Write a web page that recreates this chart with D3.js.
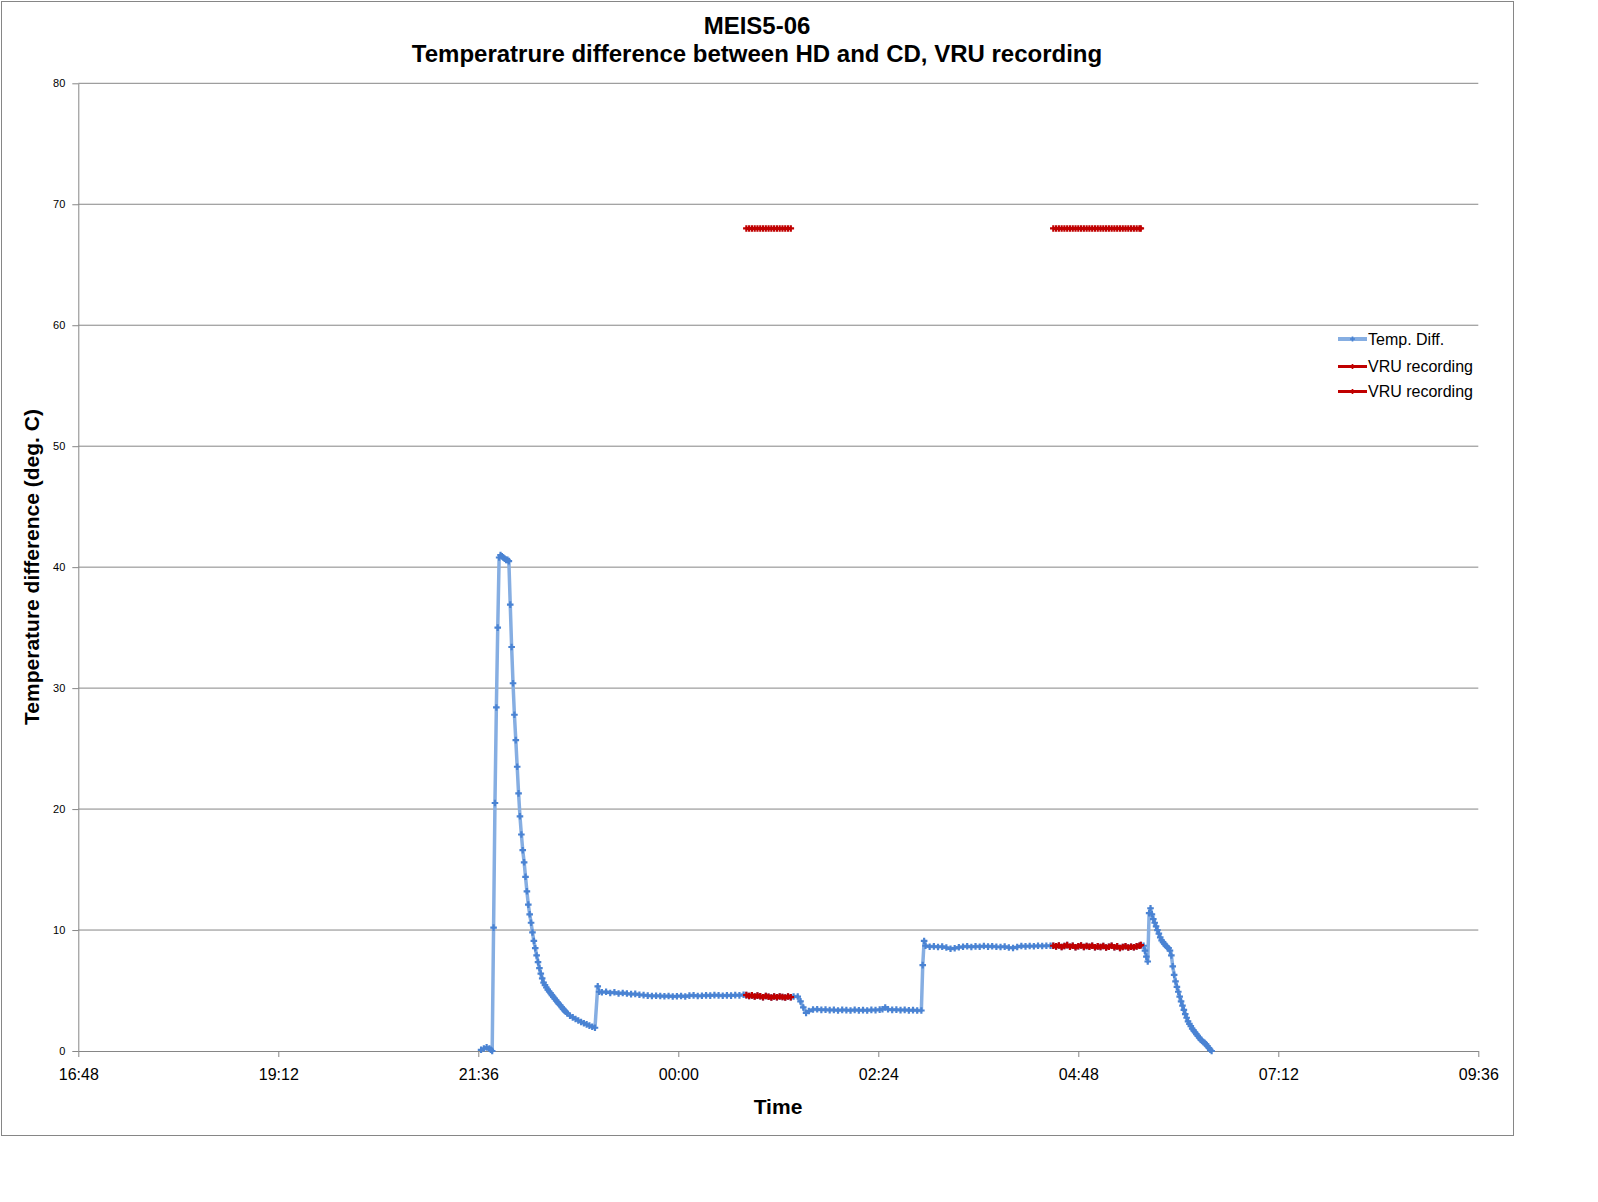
<!DOCTYPE html>
<html lang="en">
<head>
    <meta charset="UTF-8">
    <title>MEIS5-06 Temperature difference</title>
    <script src="https://cdn.jsdelivr.net/npm/d3@7/dist/d3.min.js"></script>
    <style>
        body { margin: 0; background: #fff; }
        text { font-family: "Liberation Sans", Arial, sans-serif; }
    </style>
</head>
<body>
<svg id="main" width="1598" height="1202"></svg>
<script>
// ---- data, times are HH:MM, evening = day 1, morning = day 2 ----
var xTickLabels = ["16:48", "19:12", "21:36", "00:00", "02:24", "04:48", "07:12", "09:36"];
var yTicks = [0, 10, 20, 30, 40, 50, 60, 70, 80];

// temperature difference before first VRU recording
var tempStart = [
    ["21:38", 0.1], ["21:40", 0.2], ["21:42", 0.3], ["21:44", 0.2], ["21:45", 0.1], ["21:46", 0.0],
    ["21:47", 10.2], ["21:48", 20.5], ["21:49", 28.4], ["21:50", 35.0], ["21:51", 40.8], ["21:52", 41.0],
    ["21:53", 40.9], ["21:54", 40.8], ["21:55", 40.7], ["21:56", 40.6], ["21:57", 40.6], ["21:58", 40.5],
    ["21:59", 36.9], ["22:00", 33.4], ["22:01", 30.4], ["22:02", 27.8], ["22:03", 25.7], ["22:04", 23.5],
    ["22:05", 21.3], ["22:06", 19.4], ["22:07", 17.9], ["22:08", 16.6], ["22:09", 15.6], ["22:10", 14.4],
    ["22:11", 13.2], ["22:12", 12.1], ["22:13", 11.3], ["22:14", 10.6], ["22:15", 9.8], ["22:16", 9.1],
    ["22:17", 8.5], ["22:18", 7.9], ["22:19", 7.35], ["22:20", 6.85], ["22:21", 6.4], ["22:22", 6.0],
    ["22:23", 5.65], ["22:24", 5.45], ["22:25", 5.25], ["22:26", 5.08], ["22:27", 4.92], ["22:28", 4.78],
    ["22:29", 4.62], ["22:30", 4.48], ["22:31", 4.33], ["22:32", 4.18], ["22:33", 4.04], ["22:34", 3.9],
    ["22:35", 3.78], ["22:36", 3.62], ["22:37", 3.48], ["22:38", 3.36], ["22:39", 3.24], ["22:40", 3.12],
    ["22:42", 2.92], ["22:44", 2.78], ["22:46", 2.65], ["22:48", 2.52], ["22:50", 2.4], ["22:52", 2.3],
    ["22:54", 2.2], ["22:56", 2.1], ["22:58", 2.01], ["23:00", 1.92],
    ["23:02", 5.35], ["23:03", 4.9], ["23:05", 4.85], ["23:08", 4.9], ["23:11", 4.8], ["23:14", 4.85],
    ["23:17", 4.75], ["23:20", 4.8], ["23:23", 4.75], ["23:26", 4.7], ["23:29", 4.72], ["23:32", 4.65],
    ["23:35", 4.62], ["23:38", 4.58], ["23:41", 4.55], ["23:44", 4.57], ["23:47", 4.55], ["23:50", 4.52],
    ["23:53", 4.55], ["23:56", 4.5], ["23:59", 4.53], ["00:02", 4.55], ["00:05", 4.5], ["00:08", 4.58],
    ["00:11", 4.6], ["00:14", 4.55], ["00:17", 4.57], ["00:20", 4.6], ["00:23", 4.58], ["00:26", 4.62],
    ["00:29", 4.6], ["00:32", 4.57], ["00:35", 4.6], ["00:38", 4.58], ["00:41", 4.62], ["00:44", 4.6],
    ["00:47", 4.65]
];

// temperature difference during first VRU recording
var vruTemp1 = [
    ["00:49", 4.62], ["00:51", 4.55], ["00:53", 4.6], ["00:55", 4.5], ["00:57", 4.58], ["00:59", 4.52],
    ["01:01", 4.45], ["01:03", 4.55], ["01:05", 4.48], ["01:07", 4.42], ["01:09", 4.5], ["01:11", 4.45],
    ["01:13", 4.5], ["01:15", 4.47], ["01:17", 4.42], ["01:19", 4.5], ["01:21", 4.45]
];

// between the two recordings
var tempMiddle = [
    ["01:23", 4.5], ["01:26", 4.5], ["01:28", 4.1], ["01:30", 3.6], ["01:32", 3.15], ["01:34", 3.3],
    ["01:37", 3.43], ["01:40", 3.45], ["01:43", 3.4], ["01:46", 3.42], ["01:49", 3.38], ["01:52", 3.4],
    ["01:55", 3.35], ["01:58", 3.4], ["02:01", 3.38], ["02:04", 3.35], ["02:07", 3.4], ["02:10", 3.36],
    ["02:13", 3.38], ["02:16", 3.35], ["02:19", 3.4], ["02:22", 3.38], ["02:25", 3.42], ["02:27", 3.45],
    ["02:29", 3.6], ["02:31", 3.45], ["02:34", 3.4], ["02:37", 3.42], ["02:40", 3.38], ["02:43", 3.4],
    ["02:46", 3.36], ["02:49", 3.38], ["02:52", 3.35], ["02:55", 3.35],
    ["02:56", 7.1], ["02:57", 9.1], ["02:58", 8.7], ["03:01", 8.62], ["03:04", 8.65], ["03:07", 8.6],
    ["03:10", 8.63], ["03:13", 8.55], ["03:16", 8.45], ["03:19", 8.5], ["03:22", 8.57], ["03:25", 8.62],
    ["03:28", 8.66], ["03:31", 8.6], ["03:34", 8.65], ["03:37", 8.62], ["03:40", 8.68], ["03:43", 8.63],
    ["03:46", 8.66], ["03:49", 8.62], ["03:52", 8.6], ["03:55", 8.63], ["03:58", 8.55], ["04:01", 8.52],
    ["04:04", 8.6], ["04:07", 8.68], ["04:10", 8.65], ["04:13", 8.68], ["04:16", 8.66], ["04:19", 8.7],
    ["04:22", 8.68], ["04:25", 8.7], ["04:28", 8.7]
];

// temperature difference during second VRU recording
var vruTemp2 = [
    ["04:30", 8.7], ["04:32", 8.65], ["04:34", 8.72], ["04:36", 8.6], ["04:38", 8.68], ["04:40", 8.75],
    ["04:42", 8.62], ["04:44", 8.7], ["04:46", 8.58], ["04:48", 8.66], ["04:50", 8.72], ["04:52", 8.6],
    ["04:54", 8.68], ["04:56", 8.62], ["04:58", 8.7], ["05:00", 8.58], ["05:02", 8.65], ["05:04", 8.6],
    ["05:06", 8.68], ["05:08", 8.55], ["05:10", 8.62], ["05:12", 8.7], ["05:14", 8.58], ["05:16", 8.65],
    ["05:18", 8.52], ["05:20", 8.6], ["05:22", 8.66], ["05:24", 8.55], ["05:26", 8.62], ["05:28", 8.58],
    ["05:30", 8.65], ["05:32", 8.7], ["05:33", 8.75]
];

// after the second recording
var tempEnd = [
    ["05:35", 8.7], ["05:36", 8.3], ["05:37", 7.8], ["05:38", 7.4], ["05:39", 11.4], ["05:40", 11.8],
    ["05:41", 11.3], ["05:42", 10.9], ["05:43", 10.6], ["05:44", 10.3], ["05:45", 10.0], ["05:46", 9.7],
    ["05:47", 9.4], ["05:48", 9.15], ["05:49", 9.0], ["05:50", 8.85], ["05:51", 8.7], ["05:52", 8.6],
    ["05:53", 8.5], ["05:54", 8.3], ["05:55", 7.9], ["05:56", 7.0], ["05:57", 6.3], ["05:58", 5.75],
    ["05:59", 5.3], ["06:00", 4.9], ["06:01", 4.5], ["06:02", 4.1], ["06:03", 3.75], ["06:04", 3.4],
    ["06:05", 3.05], ["06:06", 2.75], ["06:07", 2.45], ["06:08", 2.25], ["06:09", 2.05], ["06:10", 1.85],
    ["06:11", 1.7], ["06:12", 1.55], ["06:13", 1.4], ["06:14", 1.25], ["06:15", 1.1], ["06:16", 0.95],
    ["06:17", 0.85], ["06:18", 0.75], ["06:19", 0.65], ["06:20", 0.55], ["06:21", 0.4], ["06:22", 0.25],
    ["06:23", 0.1], ["06:24", 0.0]
];

// VRU recording flag (plotted at 68)
var vruFlag1 = [
    ["00:49", 68], ["00:51", 68], ["00:53", 68], ["00:55", 68], ["00:57", 68], ["00:59", 68],
    ["01:01", 68], ["01:03", 68], ["01:05", 68], ["01:07", 68], ["01:09", 68], ["01:11", 68],
    ["01:13", 68], ["01:15", 68], ["01:17", 68], ["01:19", 68], ["01:21", 68]
];
var vruFlag2 = [
    ["04:30", 68], ["04:32", 68], ["04:34", 68], ["04:36", 68], ["04:38", 68], ["04:40", 68],
    ["04:42", 68], ["04:44", 68], ["04:46", 68], ["04:48", 68], ["04:50", 68], ["04:52", 68],
    ["04:54", 68], ["04:56", 68], ["04:58", 68], ["05:00", 68], ["05:02", 68], ["05:04", 68],
    ["05:06", 68], ["05:08", 68], ["05:10", 68], ["05:12", 68], ["05:14", 68], ["05:16", 68],
    ["05:18", 68], ["05:20", 68], ["05:22", 68], ["05:24", 68], ["05:26", 68], ["05:28", 68],
    ["05:30", 68], ["05:32", 68], ["05:33", 68]
];

var legendNames = ["Temp. Diff.", "VRU recording", "VRU recording"];

// ---- drawing ----
var svg = d3.select('svg#main');
var plotLeft = 78.3, plotRight = 1478.3, plotTop = 83.3, plotBottom = 1051;

var blue = "#86AEE2", blueMark = "#4A83D3", red = "#C00000", grid = "#868686";

function parseT(s) {
    var p = s.split(":").map(Number);
    var day = p[0] >= 12 ? 1 : 2;
    return new Date(Date.UTC(2000, 0, day, p[0], p[1]));
}

var x = d3.scaleUtc()
    .domain([parseT(xTickLabels[0]), parseT(xTickLabels[xTickLabels.length - 1])])
    .range([plotLeft, plotRight]);
var y = d3.scaleLinear().domain([0, 80]).range([plotBottom, plotTop]);

// chart frame
svg.append("rect")
    .attr("x", 1.5).attr("y", 1.5).attr("width", 1512).attr("height", 1134)
    .attr("fill", "#fff").attr("stroke", grid).attr("stroke-width", 1);

// gridlines
svg.append("g").selectAll("line").data(yTicks.slice(1)).enter().append("line")
    .attr("x1", plotLeft).attr("x2", plotRight)
    .attr("y1", d => y(d)).attr("y2", d => y(d))
    .attr("stroke", grid).attr("stroke-width", 1);

// y axis
var yAx = svg.append("g")
    .attr("transform", "translate(" + plotLeft + ",0)")
    .call(d3.axisLeft(y).tickValues(yTicks).tickSize(6).tickSizeOuter(0).tickPadding(7));
yAx.select(".domain").attr("stroke", grid);
yAx.selectAll(".tick line").attr("stroke", grid);
yAx.selectAll("text").attr("font-size", 11).attr("fill", "#000")
    .style("font-family", "'Liberation Sans', Arial, sans-serif");

// x axis
var xAx = svg.append("g")
    .attr("transform", "translate(0," + plotBottom + ")")
    .call(d3.axisBottom(x).tickValues(xTickLabels.map(parseT))
        .tickFormat(d3.utcFormat("%H:%M")).tickSize(6).tickSizeOuter(0).tickPadding(12));
xAx.select(".domain").attr("stroke", grid);
xAx.selectAll(".tick line").attr("stroke", grid);
xAx.selectAll("text").attr("font-size", 16).attr("fill", "#000")
    .style("font-family", "'Liberation Sans', Arial, sans-serif");

var line = d3.line().x(d => x(parseT(d[0]))).y(d => y(d[1]));
var cross = d3.symbol().type(d3.symbolCross).size(24);

function drawSeries(data, lineColor, markColor, width) {
    svg.append("path").datum(data)
        .attr("d", line).attr("fill", "none")
        .attr("stroke", lineColor).attr("stroke-width", width)
        .attr("stroke-linejoin", "round");
    svg.append("g").selectAll("path").data(data).enter().append("path")
        .attr("d", cross)
        .attr("transform", d => "translate(" + x(parseT(d[0])) + "," + y(d[1]) + ")")
        .attr("fill", markColor);
}

var tempDiff = tempStart.concat(vruTemp1, tempMiddle, vruTemp2, tempEnd);
drawSeries(tempDiff, blue, blueMark, 3.5);
drawSeries(vruTemp1, red, red, 4);
drawSeries(vruTemp2, red, red, 4);
drawSeries(vruFlag1, red, red, 3);
drawSeries(vruFlag2, red, red, 3);

// legend
var legendY = [339, 366.5, 391.5];
var legendCol = [[blue, blueMark, 4], [red, red, 3], [red, red, 3]];
var legendMark = d3.symbol().type(d3.symbolCross).size(14);
legendNames.forEach(function (name, i) {
    var g = svg.append("g");
    g.append("line").attr("x1", 1338).attr("x2", 1367)
        .attr("y1", legendY[i]).attr("y2", legendY[i])
        .attr("stroke", legendCol[i][0]).attr("stroke-width", legendCol[i][2]);
    g.append("path").attr("d", legendMark)
        .attr("transform", "translate(1352.5," + legendY[i] + ")")
        .attr("fill", legendCol[i][1]);
    g.append("text").attr("x", 1368).attr("y", legendY[i] + 5.5)
        .attr("font-size", 16).attr("fill", "#000").text(name);
});

// titles
svg.append("text").attr("x", 757).attr("y", 34)
    .attr("text-anchor", "middle").attr("font-size", 24).attr("font-weight", "bold")
    .text("MEIS5-06");
svg.append("text").attr("x", 757).attr("y", 62)
    .attr("text-anchor", "middle").attr("font-size", 24).attr("font-weight", "bold")
    .text("Temperatrure difference between HD and CD, VRU recording");
svg.append("text").attr("x", 778).attr("y", 1114)
    .attr("text-anchor", "middle").attr("font-size", 21).attr("font-weight", "bold")
    .text("Time");
svg.append("text")
    .attr("transform", "translate(38.5,567) rotate(-90)")
    .attr("text-anchor", "middle").attr("font-size", 21).attr("font-weight", "bold")
    .text("Temperature difference (deg. C)");
</script>
</body>
</html>
